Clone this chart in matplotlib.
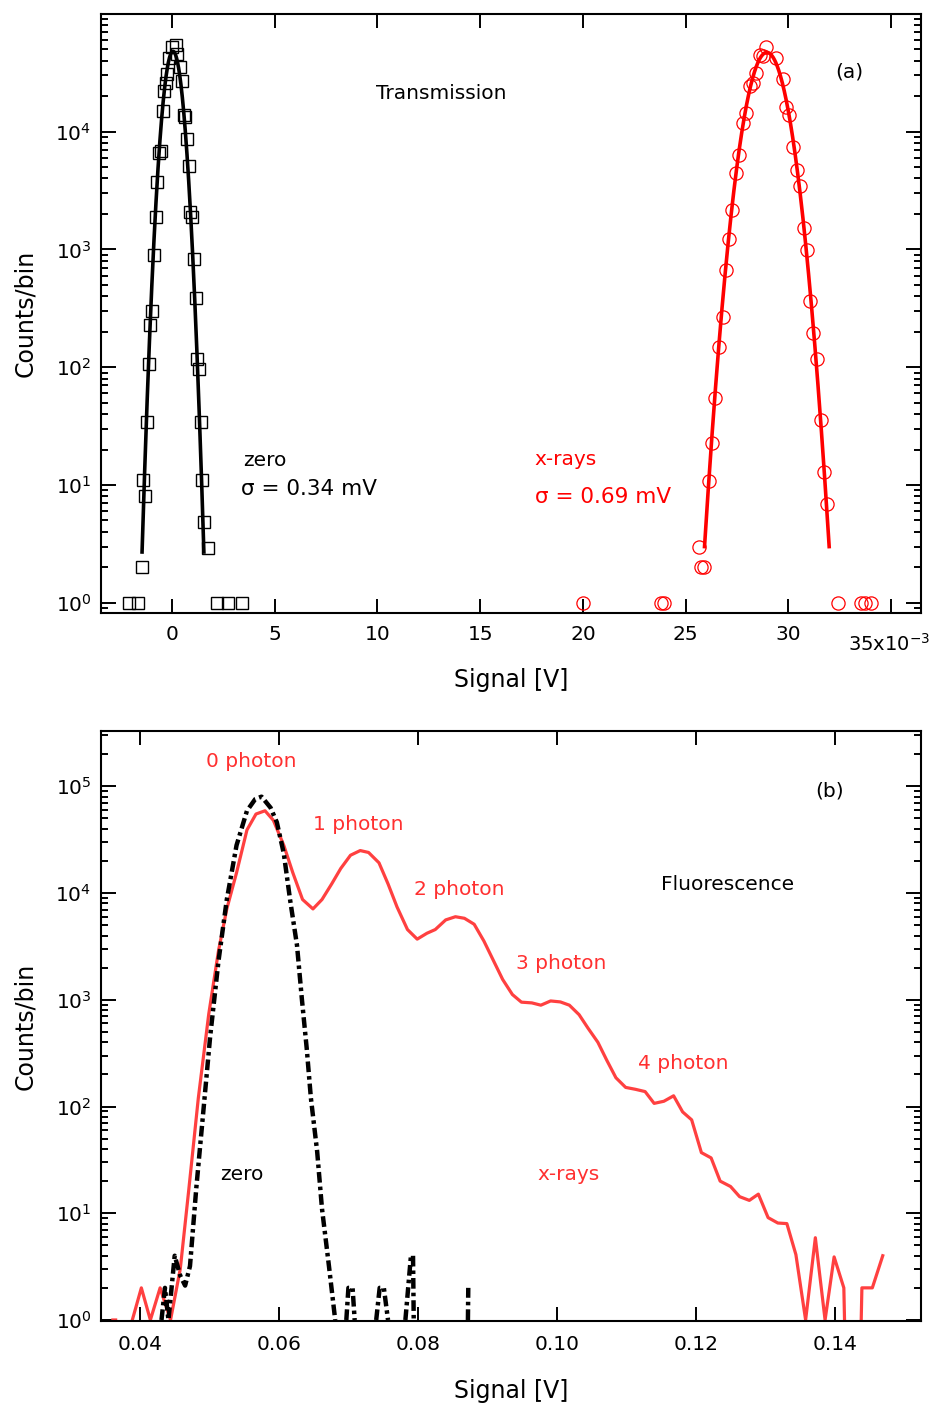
import numpy as np
import matplotlib.pyplot as plt
from matplotlib.ticker import LogLocator, LogFormatterMathtext, NullFormatter, FixedLocator

plt.rcParams['font.family'] = ['DejaVu Sans']
plt.rcParams['mathtext.default'] = 'regular'

# ---- (a) transmission histograms (x in mV) ----
zero_x = [-2.10, -1.65, -1.47, -1.31, -1.39, -1.21, -1.11, -1.05, -0.97, -0.87, -0.79,
          -0.71, -0.61, -0.53, -0.44, -0.37, -0.30, -0.23, -0.15, -0.02, 0.18, 0.27,
          0.37, 0.50, 0.61, 0.65, 0.73, 0.81, 0.90, 0.96, 1.06, 1.16, 1.24, 1.31,
          1.42, 1.48, 1.58, 1.77, 2.18, 2.71, 3.39]
zero_n = [1, 1, 2, 8, 11, 34, 106, 230, 302, 890, 1900,
          3730, 6600, 6800, 15000, 22000, 26000, 31000, 42000, 52000, 54000, 45700,
          35000, 27000, 13800, 13300, 8700, 5100, 2060, 1900, 830, 390, 117, 97,
          34, 11, 4.9, 2.9, 1, 1, 1]

xray_x = [20.00, 23.82, 23.93, 25.63, 25.76, 25.90, 26.13, 26.28, 26.44, 26.60, 26.80,
          26.94, 27.09, 27.27, 27.45, 27.58, 27.77, 27.93, 28.11, 28.26, 28.42, 28.62,
          28.78, 28.91, 29.38, 29.72, 29.89, 30.05, 30.24, 30.41, 30.57, 30.75, 30.89,
          31.07, 31.22, 31.40, 31.58, 31.74, 31.89, 32.39, 33.54, 33.74, 34.02]
xray_n = [1, 1, 1, 3.0, 2.0, 2.0, 10.9, 22.8, 55, 149, 265,
          675, 1230, 2140, 4450, 6300, 11800, 14300, 24300, 25700, 31600, 45000,
          44000, 52000, 42500, 27700, 16200, 13800, 7400, 4760, 3470, 1510, 980,
          362, 195, 117, 35.5, 12.9, 6.9, 1, 1, 1, 1]

# gaussian fits: amplitude, centre (mV), sigma (mV), lowest drawn level
zero_fit = (48000, 0.05, 0.34, 2.7)
xray_fit = (47000, 28.95, 0.69, 3.0)

# ---- (b) fluorescence histograms (x in V), nan = empty bin ----
fl_x = [0.0361, 0.0365, 0.0375,
        0.0389, 0.0402, 0.0415, 0.0429, 0.0444, 0.0458, 0.0470, 0.0484, 0.0499, 0.0513,
        0.0525, 0.0539, 0.0554, 0.0567, 0.0580, 0.0592, 0.0607, 0.0620, 0.0634, 0.0649,
        0.0662, 0.0676, 0.0689, 0.0703, 0.0717, 0.0729, 0.0744, 0.0757, 0.0770, 0.0785,
        0.0799, 0.0813, 0.0825, 0.0840, 0.0854, 0.0867, 0.0881, 0.0895, 0.0910, 0.0922,
        0.0936, 0.0949, 0.0964, 0.0977, 0.0991, 0.1005, 0.1018, 0.1032, 0.1045, 0.1059,
        0.1072, 0.1085, 0.1099, 0.1113, 0.1127, 0.1140, 0.1154, 0.1168, 0.1181, 0.1194,
        0.1208, 0.1222, 0.1235, 0.1250, 0.1263, 0.1277, 0.1290, 0.1304, 0.1318, 0.1331,
        0.1344, 0.1358, 0.1372, 0.1386, 0.1399, 0.1413, 0.1414, 0.1427, 0.1438, 0.1439,
        0.1454, 0.1469]
fl_n = [1, 1, np.nan,
        1, 2, 1, 2, 1, 3, 16, 120, 735, 2870,
        7100, 15500, 39000, 55000, 59000, 48000, 28000, 15500, 8700, 7100,
        8700, 12200, 17000, 22600, 25000, 24000, 19200, 12200, 7400, 4550,
        3700, 4200, 4550, 5600, 6000, 5800, 5100, 3550, 2240, 1550,
        1120, 950, 935, 890, 975, 955, 890, 725, 540, 400,
        270, 186, 151, 145, 138, 107, 112, 126, 89, 75,
        37, 33, 20, 17.8, 14.3, 13.2, 15.1, 9.1, 8.1, 8.0,
        4.1, 1, 5.9, 1, 3.9, 2, 1, np.nan, 1, 2,
        2, 4]

dk_x = [0.0431, 0.0436, 0.0441, 0.0450, 0.0458, 0.0465, 0.0472, 0.0481, 0.0491, 0.0501,
        0.0513, 0.0525, 0.0539, 0.0554, 0.0566, 0.0575, 0.0588, 0.0597, 0.0607, 0.0616,
        0.0626, 0.0633, 0.0640, 0.0646, 0.0655, 0.0662, 0.0672, 0.0681, 0.0690,
        0.0697, 0.0700, 0.0706, 0.0709, 0.0716,
        0.0740, 0.0745, 0.0751, 0.0757, 0.0765,
        0.0782, 0.0786, 0.0790, 0.0793, 0.0794, 0.0800,
        0.0872, 0.08725]
dk_n = [1, 2, 1, 4, 2.6, 2.1, 3.2, 17, 87, 450,
        2300, 8700, 28000, 59000, 76000, 80000, 63000, 46000, 23500, 8700,
        3240, 1020, 350, 120, 38, 11, 3.2, 1, np.nan,
        1, 2, 2, 1, np.nan,
        1, 2, 2, 1, np.nan,
        1, 2, 4, 4, 1, np.nan,
        1, 2]


def gauss_curve(amp, x0, sig, floor):
    half = sig * np.sqrt(2 * np.log(amp / floor))
    x = np.linspace(x0 - half, x0 + half, 400)
    return x, amp * np.exp(-(x - x0) ** 2 / (2 * sig ** 2))


def style_axis(ax):
    for s in ax.spines.values():
        s.set_linewidth(1.5)
    ax.set_yscale('log')
    ax.yaxis.set_major_locator(LogLocator(base=10, numticks=20))
    ax.yaxis.set_minor_locator(LogLocator(base=10, subs=np.arange(2, 10), numticks=20))
    ax.yaxis.set_major_formatter(LogFormatterMathtext())
    ax.yaxis.set_minor_formatter(NullFormatter())
    ax.tick_params(which='both', direction='in', top=True, right=True, width=1.4,
                   labelsize=14.5, colors='black')
    ax.tick_params(which='major', length=11)
    ax.tick_params(which='minor', length=5)
    ax.tick_params(axis='x', which='major', length=10)
    ax.set_ylabel('Counts/bin', fontsize=17)
    ax.yaxis.set_label_coords(-0.078, 0.5)
    ax.set_xlabel('Signal [V]', fontsize=17)


fig = plt.figure(figsize=(9.33, 14.03), dpi=100)
ax1 = fig.add_axes([0.1083, 0.5631, 0.8788, 0.4269])
ax2 = fig.add_axes([0.1083, 0.0585, 0.8788, 0.4205])

# ---- panel (a) ----
style_axis(ax1)
ax1.plot(np.array(zero_x) * 1e-3, zero_n, 's', ms=9, mfc='none', mec='black', mew=1.0)
ax1.plot(np.array(xray_x) * 1e-3, xray_n, 'o', ms=9.5, mfc='none', mec='#ff0000', mew=0.9)
for (amp, x0, sig, floor), col in [(zero_fit, 'black'), (xray_fit, '#ff0000')]:
    gx, gy = gauss_curve(amp, x0, sig, floor)
    ax1.plot(gx * 1e-3, gy, '-', color=col, lw=2.6)

ax1.set_xlim(-3.45e-3, 36.45e-3)
ax1.set_ylim(0.82, 0.995e5)
xt = np.arange(0, 40, 5)
ax1.xaxis.set_major_locator(FixedLocator(xt * 1e-3))
ax1.set_xticklabels([str(v) for v in xt[:-1]] + [''])
ax1.tick_params(axis='x', pad=9)
ax1.tick_params(axis='y', pad=7)
ax1.text(1.011, -0.052, '35x10$^{-3}$', transform=ax1.transAxes, fontsize=14,
         ha='right', va='center')
ax1.xaxis.set_label_coords(0.5, -0.092)

ax1.text(0.3354, 0.868, 'Transmission', transform=ax1.transAxes, fontsize=14.5, va='center')
ax1.text(0.896, 0.903, '(a)', transform=ax1.transAxes, fontsize=14.5, va='center')
ax1.text(0.173, 0.254, 'zero', transform=ax1.transAxes, fontsize=14.5, va='center')
ax1.text(0.171, 0.207, 'σ = 0.34 mV', transform=ax1.transAxes, fontsize=15.5, va='center')
ax1.text(0.529, 0.257, 'x-rays', transform=ax1.transAxes, fontsize=14.5, va='center',
         color='#ff0000')
ax1.text(0.529, 0.194, 'σ = 0.69 mV', transform=ax1.transAxes, fontsize=15.5, va='center',
         color='#ff0000')

# ---- panel (b) ----
style_axis(ax2)
ax2.plot(fl_x, fl_n, '-', color='#ff4040', lw=2.3)
ax2.plot(dk_x, dk_n, color='black', lw=3.2, dashes=(2.4, 0.9, 0.8, 0.9))
ax2.set_xlim(0.0344, 0.1524)
ax2.set_ylim(0.98, 3.3e5)
xt2 = [0.04, 0.06, 0.08, 0.10, 0.12, 0.14]
ax2.xaxis.set_major_locator(FixedLocator(xt2))
ax2.set_xticklabels(['%.2f' % v for v in xt2])
ax2.tick_params(axis='x', pad=10)
ax2.tick_params(axis='y', pad=7)
ax2.xaxis.set_label_coords(0.5, -0.098)

red = '#ff3030'
for txt, x, y in [('0 photon', 0.128, 0.949), ('1 photon', 0.2585, 0.8407),
                  ('2 photon', 0.3817, 0.7305), ('3 photon', 0.506, 0.605),
                  ('4 photon', 0.655, 0.4356), ('x-rays', 0.532, 0.249)]:
    ax2.text(x, y, txt, transform=ax2.transAxes, fontsize=14.5, va='center', color=red)
ax2.text(0.683, 0.739, 'Fluorescence', transform=ax2.transAxes, fontsize=14.5, va='center')
ax2.text(0.871, 0.898, '(b)', transform=ax2.transAxes, fontsize=14.5, va='center')
ax2.text(0.145, 0.249, 'zero', transform=ax2.transAxes, fontsize=14.5, va='center')

fig.savefig('out.png', dpi=100)
